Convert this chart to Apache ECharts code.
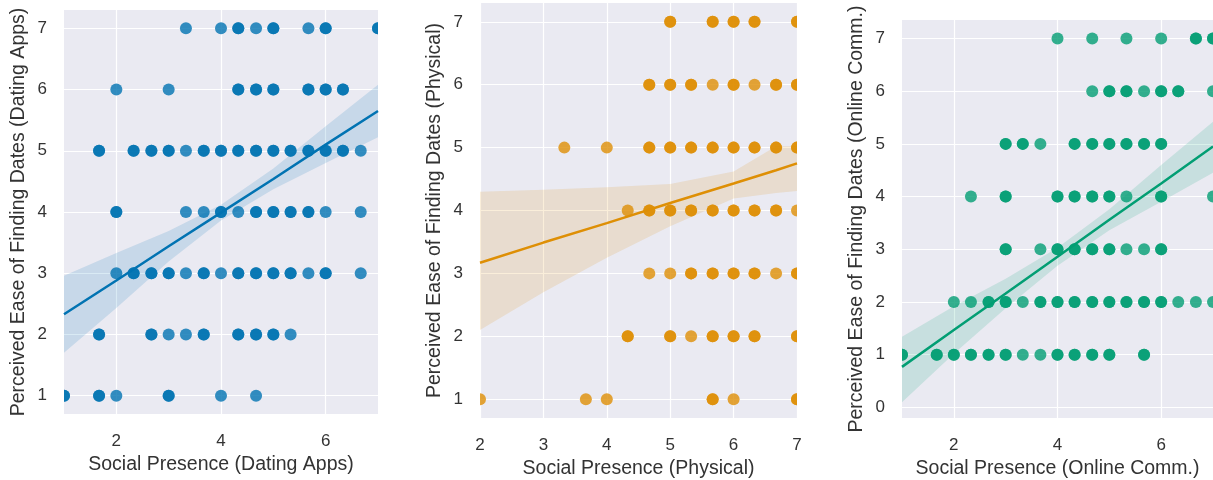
<!DOCTYPE html>
<html>
<head>
<meta charset="utf-8">
<script src="https://cdn.jsdelivr.net/npm/echarts@6/dist/echarts.min.js"></script>
<style>
  * { margin: 0; padding: 0; }
  body { background: #fff; }
  #chart { width: 1213px; height: 480px; }
</style>
</head>
<body>
<div id="chart"></div>
<script>
// y levels (answers 1..7); for each level the list of x values (one entry per respondent)
var levels = [1, 2, 3, 4, 5, 6, 7];

var appsRows = [
  [1, 1, 1.67, 1.67, 2, 3, 3, 4, 4.67],
  [1.67, 1.67, 2.67, 2.67, 3, 3.33, 3.67, 3.67, 4.33, 4.33, 4.67, 4.67, 5, 5, 5.33],
  [2, 2.33, 2.33, 2.67, 2.67, 3, 3, 3.33, 3.67, 3.67, 4, 4.33, 4.33, 4.67, 4.67, 5, 5, 5.33, 5.33, 5.67, 6, 6, 6.67],
  [2, 2, 3.33, 3.67, 4, 4, 4.33, 4.67, 4.67, 5, 5, 5.33, 5.33, 5.67, 5.67, 6, 6.67],
  [1.67, 1.67, 2.33, 2.33, 2.67, 2.67, 3, 3, 3.33, 3.67, 3.67, 4, 4, 4.33, 4.33, 4.67, 4.67, 5, 5, 5.33, 5.33, 5.67, 5.67, 6, 6, 6.33, 6.33, 6.67],
  [2, 3, 4.33, 4.33, 4.67, 4.67, 5, 5, 5.67, 5.67, 6, 6, 6.33, 6.33],
  [3.33, 4, 4.33, 4.33, 4.67, 5, 5, 5.67, 6, 6, 7, 7]
];
var physRows = [
  [2, 3.67, 4, 5.67, 5.67, 6, 7, 7],
  [4.33, 4.33, 5, 5, 5.33, 5.67, 5.67, 6, 6, 6.33, 6.33, 7, 7],
  [4.67, 5, 5.33, 5.33, 5.67, 5.67, 6, 6, 6.33, 6.33, 6.67, 7, 7],
  [4.33, 4.67, 4.67, 5, 5, 5.33, 5.33, 5.67, 5.67, 6, 6, 6.33, 6.33, 6.67, 6.67, 7],
  [3.33, 4, 4.67, 4.67, 5, 5, 5.33, 5.33, 5.67, 5.67, 6, 6, 6.33, 6.33, 6.67, 6.67, 7, 7],
  [4.67, 4.67, 5, 5, 5.33, 5.33, 5.67, 6, 6, 6.33, 6.67, 6.67, 7, 7],
  [5, 5, 5.67, 5.67, 6, 6, 6.33, 6.33, 7, 7]
];
var onlineRows = [
  [1, 1, 1.67, 1.67, 2, 2, 2.33, 2.33, 2.67, 2.67, 3, 3, 3.33, 3.67, 4, 4, 4.33, 4.33, 4.67, 4.67, 5, 5, 5.67, 5.67],
  [2, 2.33, 2.67, 2.67, 3, 3, 3.33, 3.67, 3.67, 4, 4, 4.33, 4.33, 4.67, 4.67, 5, 5, 5.33, 5.33, 5.67, 5.67, 6, 6, 6.33, 6.67, 7],
  [3, 3, 3.67, 4, 4, 4.33, 4.33, 4.67, 4.67, 5, 5, 5.33, 5.67, 6, 6],
  [2.33, 3, 3, 4, 4, 4.33, 4.33, 4.67, 4.67, 5, 5, 5.33, 6, 6, 7],
  [3, 3, 3.33, 3.33, 3.67, 4.33, 4.33, 4.67, 4.67, 5, 5, 5.33, 5.33, 5.67, 5.67, 6, 6],
  [4.67, 5, 5, 5.33, 5.33, 5.67, 6, 6, 6.33, 6.33, 7],
  [4, 4.67, 5.33, 6, 6.67, 6.67, 7, 7]
];

// fitted line and confidence band
var appsBandX = [1, 2, 3, 4, 5, 6, 7];
var appsFit = [2.33, 2.88, 3.44, 3.99, 4.54, 5.10, 5.65];
var appsLo = [1.70, 2.43, 3.19, 3.86, 4.37, 4.80, 5.22];
var appsHi = [2.96, 3.33, 3.69, 4.12, 4.71, 5.40, 6.08];

var physBandX = [2, 3, 4, 5, 6, 6.67, 7];
var physFit = [3.17, 3.49, 3.80, 4.12, 4.43, 4.64, 4.75];
var physLo = [2.10, 2.70, 3.25, 3.75, 4.19, 4.28, 4.31];
var physHi = [4.30, 4.33, 4.37, 4.42, 4.62, 5.02, 5.02];

var onlineBandX = [1, 2, 3, 4, 5, 6, 7];
var onlineFit = [0.77, 1.47, 2.16, 2.86, 3.56, 4.25, 4.95];
var onlineLo = [0.10, 1.02, 1.88, 2.69, 3.36, 3.90, 4.45];
var onlineHi = [1.34, 1.92, 2.44, 3.03, 3.76, 4.60, 5.42];

var xNames = ['Social Presence (Dating Apps)', 'Social Presence (Physical)', 'Social Presence (Online Comm.)'];
var yNames = ['Perceived Ease of Finding Dates (Dating Apps)', 'Perceived Ease of Finding Dates (Physical)', 'Perceived Ease of Finding Dates (Online Comm.)'];
var xTicks = [[2, 4, 6], [2, 3, 4, 5, 6, 7], [2, 4, 6]];
var yTicks = [[1, 2, 3, 4, 5, 6, 7], [1, 2, 3, 4, 5, 6, 7], [0, 1, 2, 3, 4, 5, 6, 7]];
var colors = ['#0173b2', '#de8f05', '#029e73'];

var textColor = '#333333';
var font = 'Liberation Sans, Arial, sans-serif';

function toPoints(rows) {
  var pts = [];
  rows.forEach(function (xs, i) {
    xs.forEach(function (x) { pts.push([x, levels[i]]); });
  });
  return pts;
}

// dots drawn as a custom series so they get cut at the plot edge like matplotlib
function scatter(idx, rows) {
  return {
    type: 'custom', xAxisIndex: idx, yAxisIndex: idx, z: 2, clip: true,
    data: toPoints(rows),
    renderItem: function (params, api) {
      var p = api.coord([api.value(0), api.value(1)]);
      return {
        type: 'circle',
        shape: { cx: p[0], cy: p[1], r: 6 },
        style: { fill: colors[idx], opacity: 0.8 }
      };
    }
  };
}

function band(idx, xs, lo, hi) {
  return {
    type: 'custom', xAxisIndex: idx, yAxisIndex: idx, z: 3, silent: true, clip: true,
    data: xs.map(function (x, i) { return [x, lo[i], hi[i]]; }),
    renderItem: function (params, api) {
      if (params.dataIndex !== 0) return;
      var pts = [];
      for (var i = 0; i < xs.length; i++) pts.push(api.coord([xs[i], hi[i]]));
      for (var j = xs.length - 1; j >= 0; j--) pts.push(api.coord([xs[j], lo[j]]));
      return {
        type: 'polygon',
        shape: { points: pts },
        style: { fill: colors[idx], opacity: 0.15 }
      };
    }
  };
}

function fitLine(idx, xs, ys) {
  return {
    type: 'line', xAxisIndex: idx, yAxisIndex: idx, z: 4,
    showSymbol: false, silent: true,
    lineStyle: { color: colors[idx], width: 2.5 },
    data: xs.map(function (x, i) { return [x, ys[i]]; })
  };
}

var grids = [
  { left: 64, top: 10, width: 314, height: 404 },
  { left: 480, top: 3, width: 317, height: 415 },
  { left: 902, top: 20, width: 311, height: 398 }
];
var xRange = [[1, 7], [2, 7], [1, 7]];
var yRange = [[0.7, 7.3], [0.7, 7.3], [-0.2, 7.35]];

var xAxes = [], yAxes = [];
for (var k = 0; k < 3; k++) {
  grids[k].backgroundColor = '#eaeaf2';
  grids[k].show = true;
  grids[k].borderWidth = 0;
  grids[k].outerBoundsMode = 'none';
  xAxes.push({
    type: 'value', gridIndex: k, min: xRange[k][0], max: xRange[k][1],
    name: xNames[k], nameLocation: 'middle', nameGap: 40,
    nameTextStyle: { color: textColor, fontSize: 19.5, fontFamily: font },
    axisLine: { show: false },
    axisTick: { show: false, customValues: xTicks[k] },
    axisLabel: { customValues: xTicks[k], color: textColor, fontSize: 17, fontFamily: font, margin: 19 },
    splitLine: { show: true, lineStyle: { color: '#ffffff', width: 1.2 } }
  });
  yAxes.push({
    type: 'value', gridIndex: k, min: yRange[k][0], max: yRange[k][1],
    name: yNames[k], nameLocation: 'middle', nameGap: 35, nameRotate: 90,
    nameTextStyle: { color: textColor, fontSize: 19.5, fontFamily: font },
    axisLine: { show: false },
    axisTick: { show: false, customValues: yTicks[k] },
    axisLabel: { customValues: yTicks[k], color: textColor, fontSize: 17, fontFamily: font, margin: 17 },
    splitLine: { show: true, lineStyle: { color: '#ffffff', width: 1.2 } }
  });
}

var option = {
  animation: false,
  backgroundColor: '#ffffff',
  grid: grids,
  xAxis: xAxes,
  yAxis: yAxes,
  series: [
    scatter(0, appsRows), band(0, appsBandX, appsLo, appsHi), fitLine(0, appsBandX, appsFit),
    scatter(1, physRows), band(1, physBandX, physLo, physHi), fitLine(1, physBandX, physFit),
    scatter(2, onlineRows), band(2, onlineBandX, onlineLo, onlineHi), fitLine(2, onlineBandX, onlineFit)
  ]
};

var chart = echarts.init(document.getElementById('chart'));
chart.setOption(option);
</script>
</body>
</html>
